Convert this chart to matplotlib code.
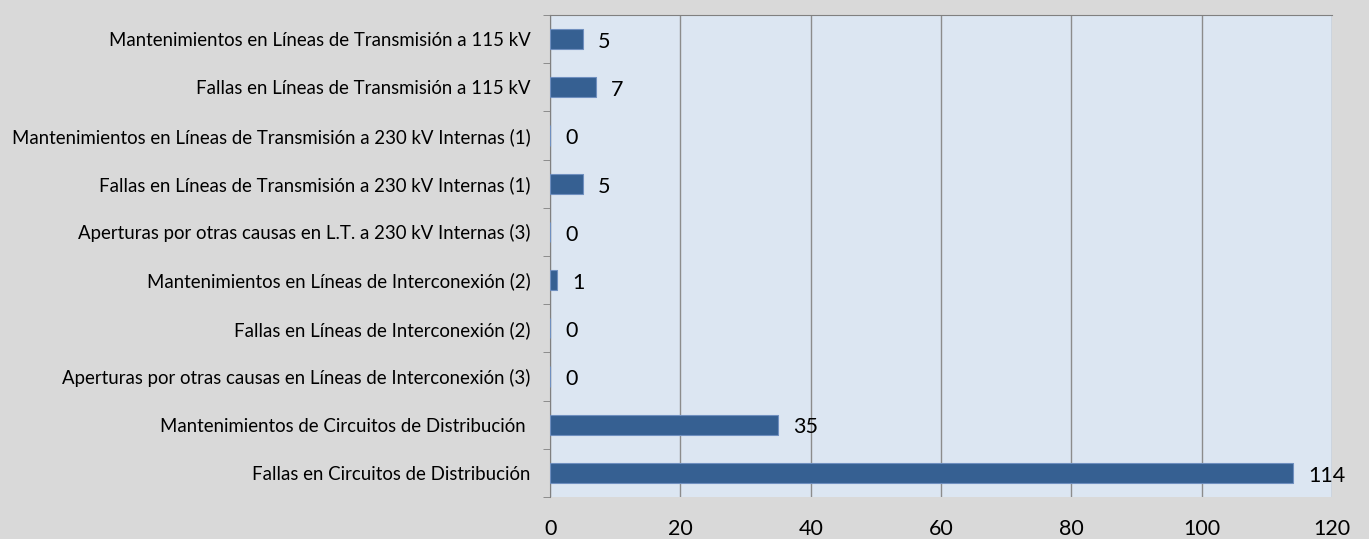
import numpy as np
import matplotlib.pyplot as plt

plt.rcParams['font.family'] = ['Lato', 'DejaVu Sans']

categorias = [
    "Mantenimientos en Líneas de Transmisión a 115 kV",
    "Fallas en Líneas de Transmisión a 115 kV",
    "Mantenimientos en Líneas de Transmisión a 230 kV Internas (1)",
    "Fallas en Líneas de Transmisión a 230 kV Internas (1)",
    "Aperturas por otras causas en L.T. a 230 kV Internas (3)",
    "Mantenimientos en Líneas de Interconexión (2)",
    "Fallas en Líneas de Interconexión (2)",
    "Aperturas por otras causas en Líneas de Interconexión (3)",
    "Mantenimientos de Circuitos de Distribución ",
    "Fallas en Circuitos de Distribución",
]
valores = [5, 7, 0, 5, 0, 1, 0, 0, 35, 114]
xticks = [0, 20, 40, 60, 80, 100, 120]

fig = plt.figure(figsize=(13.69, 5.39), dpi=100, facecolor='#d9d9d9')
ax = fig.add_axes([0.4018, 0.078, 0.5712, 0.894])
ax.set_facecolor('#dce6f2')

y = np.arange(len(categorias))
ax.barh(y, valores, height=0.42, color='#366092', edgecolor='#6f8fbf', linewidth=0.8, zorder=3)

for yi, v in zip(y, valores):
    ax.annotate(str(v), (v, yi), xytext=(11, -2), textcoords='offset points',
                va='center', ha='left', fontsize=15.5, color='black', zorder=4)

ax.set_xlim(0, 120)
ax.set_ylim(len(categorias) - 0.5, -0.5)
ax.set_xticks(xticks)
ax.set_xticklabels([str(t) for t in xticks], fontsize=15.5)
ax.tick_params(axis='x', length=0, pad=16)

ax.set_yticks(y)
ax.set_yticklabels(categorias, fontsize=13.4)
ax.tick_params(axis='y', length=0, pad=14)
ax.set_yticks(np.arange(len(categorias) + 1) - 0.5, minor=True)
ax.tick_params(axis='y', which='minor', length=5, color='#808080', direction='out')

ax.xaxis.grid(True, color='#8c8c8c', linewidth=1, zorder=1)
ax.set_axisbelow(True)
for s in ['bottom', 'right']:
    ax.spines[s].set_visible(False)
ax.spines['left'].set_color('#808080')
ax.spines['top'].set_color('#808080')

fig.savefig('out.png', dpi=100, facecolor=fig.get_facecolor())
